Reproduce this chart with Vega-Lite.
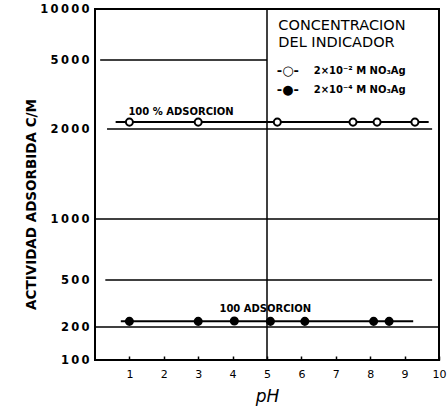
{
  "$schema": "https://vega.github.io/schema/vega-lite/v6.json",
  "autosize": "none",
  "width": 344,
  "height": 351,
  "padding": {"left": 95, "top": 9, "right": 8, "bottom": 47},
  "background": "white",
  "config": {
    "view": {"stroke": "black", "strokeWidth": 2},
    "font": "DejaVu Sans"
  },
  "datasets": {
    "points": [
      {"ph": 1, "act": 2300, "serie": "2x10-2 M"},
      {"ph": 3, "act": 2300, "serie": "2x10-2 M"},
      {"ph": 5.3, "act": 2300, "serie": "2x10-2 M"},
      {"ph": 7.5, "act": 2300, "serie": "2x10-2 M"},
      {"ph": 8.2, "act": 2300, "serie": "2x10-2 M"},
      {"ph": 9.3, "act": 2300, "serie": "2x10-2 M"},
      {"ph": 1, "act": 236, "serie": "2x10-4 M"},
      {"ph": 3, "act": 236, "serie": "2x10-4 M"},
      {"ph": 4.05, "act": 238, "serie": "2x10-4 M"},
      {"ph": 5.1, "act": 236, "serie": "2x10-4 M"},
      {"ph": 6.1, "act": 236, "serie": "2x10-4 M"},
      {"ph": 8.1, "act": 236, "serie": "2x10-4 M"},
      {"ph": 8.55, "act": 236, "serie": "2x10-4 M"}
    ],
    "fits": [
      {"ph": 0.6, "act": 2300, "serie": "2x10-2 M"},
      {"ph": 9.7, "act": 2300, "serie": "2x10-2 M"},
      {"ph": 0.75, "act": 236, "serie": "2x10-4 M"},
      {"ph": 9.25, "act": 236, "serie": "2x10-4 M"}
    ],
    "grid": [
      {"act": 5000, "ph": 0.15, "ph2": 5},
      {"act": 2000, "ph": 0.35, "ph2": 9.8},
      {"act": 1000, "ph": 0, "ph2": 10},
      {"act": 500, "ph": 0.3, "ph2": 9.8},
      {"act": 200, "ph": 0, "ph2": 10}
    ],
    "vgrid": [
      {"ph": 5, "act": 100, "act2": 10000}
    ],
    "labels": [
      {"ph": 2.5, "act": 2750, "text": "100 % ADSORCION"},
      {"ph": 4.95, "act": 315, "text": "100 ADSORCION"}
    ],
    "legendTitle": [
      {"ph": 5.33, "act": 8330, "text": "CONCENTRACION"},
      {"ph": 5.33, "act": 6700, "text": "DEL INDICADOR"}
    ],
    "legendItems": [
      {"ph": 5.4, "act": 4520, "sym": "-○-", "text": "2×10⁻² M NO₃Ag"},
      {"ph": 5.4, "act": 3700, "sym": "-●-", "text": "2×10⁻⁴ M NO₃Ag"}
    ]
  },
  "encoding": {
    "x": {"field": "ph", "type": "quantitative", "scale": {"domain": [0, 10], "nice": false, "zero": false},
      "axis": {"values": [1,2,3,4,5,6,7,8,9,10], "title": "pH", "titleFont": "DejaVu Sans", "titleFontStyle": "italic", "titleFontWeight": "normal", "titleFontSize": 17, "titleColor": "black", "titlePadding": 9,
        "labelFont": "DejaVu Sans", "labelFontSize": 11, "labelColor": "black", "labelPadding": 12, "labelOverlap": false, "labelSeparation": 0, "domain": false, "tickSize": -4, "tickColor": "black", "tickWidth": 1.5, "grid": false, "labelFlush": false}},
    "y": {"field": "act", "type": "quantitative",
      "scale": {"type": "linear", "domain": [100, 200, 500, 1000, 2000, 5000, 10000], "range": [351, 318, 271, 210, 120, 51, 0], "nice": false, "zero": false},
      "axis": {"values": [100, 200, 500, 1000, 2000, 5000, 10000], "title": "ACTIVIDAD ADSORBIDA C/M", "titleFont": "DejaVu Sans", "titleFontWeight": "bold", "titleFontSize": 13.5, "titleColor": "black", "titleX": -57, "titleY": 195,
        "labelExpr": "join(split(datum.value + '', ''), '\u2009')",
        "labelFont": "DejaVu Sans", "labelFontWeight": "bold", "labelFontSize": 11.5, "labelColor": "black", "labelPadding": 6, "labelOverlap": false, "domain": false, "ticks": false, "grid": false}}
  },
  "layer": [
    {
      "data": {"name": "grid"},
      "mark": {"type": "rule", "color": "black", "strokeWidth": 1.5},
      "encoding": {
        "x2": {"field": "ph2"}
      }
    },
    {
      "data": {"name": "vgrid"},
      "mark": {"type": "rule", "color": "black", "strokeWidth": 1.5},
      "encoding": {
        "y2": {"field": "act2"}
      }
    },
    {
      "data": {"name": "fits"},
      "mark": {"type": "line", "color": "black", "strokeWidth": 2},
      "encoding": {
        "detail": {"field": "serie"}
      }
    },
    {
      "data": {"name": "points"},
      "mark": {"type": "point", "size": 50, "strokeWidth": 2, "opacity": 1},
      "encoding": {
        "fill": {"field": "serie", "type": "nominal", "scale": {"domain": ["2x10-2 M", "2x10-4 M"], "range": ["white", "black"]}, "legend": null},
        "stroke": {"value": "black"},
        "fillOpacity": {"value": 1}
      }
    },
    {
      "data": {"name": "labels"},
      "mark": {"type": "text", "font": "DejaVu Sans", "fontWeight": "bold", "fontSize": 10, "color": "black"},
      "encoding": {
        "text": {"field": "text"}
      }
    },
    {
      "data": {"name": "legendTitle"},
      "mark": {"type": "text", "font": "DejaVu Sans", "fontSize": 14.5, "align": "left", "color": "black"},
      "encoding": {
        "text": {"field": "text"}
      }
    },
    {
      "data": {"name": "legendItems"},
      "mark": {"type": "text", "font": "DejaVu Sans", "fontWeight": "bold", "fontSize": 13, "align": "left", "dx": -4, "color": "black"},
      "encoding": {
        "text": {"field": "sym"}
      }
    },
    {
      "data": {"name": "legendItems"},
      "mark": {"type": "text", "font": "DejaVu Sans", "fontWeight": "bold", "fontSize": 10, "align": "left", "dx": 33, "color": "black"},
      "encoding": {
        "text": {"field": "text"}
      }
    }
  ]
}
